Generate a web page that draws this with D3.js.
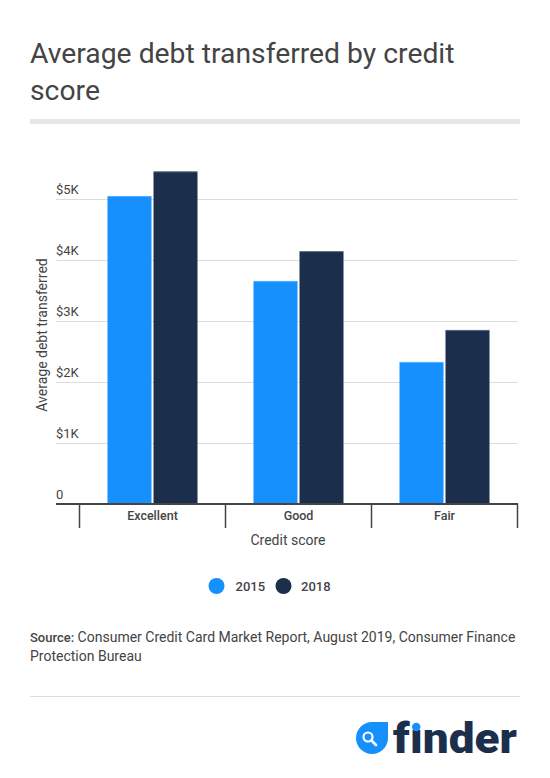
<!DOCTYPE html>
<html>
<head>
<meta charset="utf-8">
<script src="https://cdn.jsdelivr.net/npm/d3@7"></script>
<style>
  html, body { margin: 0; padding: 0; background: #fff; }
  svg { display: block; font-family: Roboto, "Noto Sans", sans-serif; }
</style>
</head>
<body>
<svg id="chart" width="550" height="778"></svg>
<script>
const categories = ["Excellent", "Good", "Fair"];
const seriesNames = ["2015", "2018"];
const values2015 = [5050, 3655, 2325];
const values2018 = [5455, 4145, 2850];
const yTicks = [0, 1000, 2000, 3000, 4000, 5000];
const yTickLabels = ["0", "$1K", "$2K", "$3K", "$4K", "$5K"];
const colors = ["#1690fd", "#1b2f4c"];

const svg = d3.select("#chart");
const textColor = "#444";

// Title
const title = svg.append("text").attr("fill", textColor).attr("font-size", 28.3).attr("font-weight", 400);
title.append("tspan").attr("x", 30).attr("y", 63).text("Average debt transferred by credit");
title.append("tspan").attr("x", 30).attr("y", 100).text("score");
svg.append("rect").attr("x", 30).attr("y", 119).attr("width", 490).attr("height", 5).attr("fill", "#e6e6e6");

// Scales
const plotLeft = 56, plotRight = 518;
const x0 = d3.scaleBand().domain(categories).range([79.5, 517.5]).paddingInner(0).paddingOuter(0);
const x1 = d3.scaleBand().domain(seriesNames).range([28, 118]).paddingInner(2 / 46).paddingOuter(0);
const y = d3.scaleLinear().domain([0, 5000]).range([503.5, 199]);

// Gridlines
const grid = svg.append("g");
grid.selectAll("line").data(yTicks.filter(d => d > 0)).join("line")
  .attr("x1", plotLeft).attr("x2", plotRight)
  .attr("y1", d => Math.round(y(d)) + 0.5).attr("y2", d => Math.round(y(d)) + 0.5)
  .attr("stroke", "#dcdcdc").attr("stroke-width", 1);

// Y labels
svg.append("g").selectAll("text").data(yTicks).join("text")
  .attr("x", plotLeft).attr("y", d => y(d) - 5)
  .attr("font-size", 13).attr("fill", textColor)
  .text((d, i) => yTickLabels[i]);

// Bars
const data = categories.map((c, i) => ({ cat: c, vals: [values2015[i], values2018[i]] }));
const groups = svg.append("g").selectAll("g").data(data).join("g")
  .attr("transform", d => `translate(${x0(d.cat)},0)`);
groups.selectAll("rect.bar").data(d => d.vals.map((v, j) => ({ s: seriesNames[j], v, j }))).join("rect")
  .attr("class", "bar")
  .attr("x", d => x1(d.s)).attr("width", x1.bandwidth())
  .attr("y", d => y(d.v)).attr("height", d => y(0) - y(d.v))
  .attr("fill", d => colors[d.j]);
groups.selectAll("rect.cap").data(d => d.vals.map((v, j) => ({ s: seriesNames[j], v, j }))).join("rect")
  .attr("class", "cap")
  .attr("x", d => x1(d.s)).attr("width", x1.bandwidth())
  .attr("y", d => y(d.v)).attr("height", 1)
  .attr("fill", "#ffffff").attr("opacity", 0.3);

// X axis
svg.append("line").attr("x1", plotLeft).attr("x2", plotRight)
  .attr("y1", y(0) + 0.5).attr("y2", y(0) + 0.5)
  .attr("stroke", textColor).attr("stroke-width", 2);
const boundaries = categories.map(c => x0(c)).concat([x0(categories[categories.length - 1]) + x0.bandwidth()]);
svg.append("g").selectAll("line").data(boundaries).join("line")
  .attr("x1", d => d).attr("x2", d => d)
  .attr("y1", y(0)).attr("y2", 528)
  .attr("stroke", textColor).attr("stroke-width", 1.5);
svg.append("g").selectAll("text").data(categories).join("text")
  .attr("x", d => x0(d) + x0.bandwidth() / 2).attr("y", 520)
  .attr("text-anchor", "middle").attr("font-size", 12.5).attr("font-weight", 500).attr("fill", textColor)
  .text(d => d);

// Axis titles
svg.append("text").attr("x", 288).attr("y", 545).attr("text-anchor", "middle")
  .attr("font-size", 14).attr("fill", textColor).text("Credit score");
svg.append("text").attr("transform", "translate(47,335) rotate(-90)").attr("text-anchor", "middle")
  .attr("font-size", 14).attr("fill", textColor).text("Average debt transferred");

// Legend
const legendPos = [{ cx: 216.5, tx: 235.5 }, { cx: 283.5, tx: 301 }];
const legend = svg.append("g").selectAll("g").data(seriesNames).join("g");
legend.append("circle").attr("cx", (d, i) => legendPos[i].cx).attr("cy", 586).attr("r", 8)
  .attr("fill", (d, i) => colors[i]);
legend.append("text").attr("x", (d, i) => legendPos[i].tx).attr("y", 591)
  .attr("font-size", 13).attr("font-weight", 500).attr("fill", textColor).text(d => d);

// Source
const src = svg.append("text").attr("font-size", 14).attr("fill", textColor);
const l1 = src.append("tspan").attr("x", 30).attr("y", 642);
l1.append("tspan").attr("font-weight", 500).attr("font-size", 13).text("Source:");
l1.append("tspan").text(" Consumer Credit Card Market Report, August 2019, Consumer Finance");
src.append("tspan").attr("x", 30).attr("y", 661).text("Protection Bureau");

svg.append("line").attr("x1", 30).attr("x2", 520).attr("y1", 696.5).attr("y2", 696.5)
  .attr("stroke", "#dddddd").attr("stroke-width", 1);

// Logo
const logo = svg.append("g");
logo.append("path").attr("d", "M372,722 L388,722 L388,738 A16,16 0 1 1 372,722 Z").attr("fill", "#1690fd");
logo.append("circle").attr("cx", 368).attr("cy", 737).attr("r", 4.5).attr("fill", "none")
  .attr("stroke", "#fff").attr("stroke-width", 2.2);
logo.append("line").attr("x1", 371.5).attr("y1", 740.5).attr("x2", 376).attr("y2", 745)
  .attr("stroke", "#fff").attr("stroke-width", 2.6).attr("stroke-linecap", "round");
const word = logo.append("text").attr("x", 393).attr("y", 753)
  .attr("font-size", 43).attr("font-weight", 900).attr("fill", "#1b2f4c")
  .attr("textLength", 124).attr("lengthAdjust", "spacingAndGlyphs")
  .text("f\u0131nder");
try {
  const ext = word.node().getExtentOfChar(1);
  logo.append("circle").attr("cx", ext.x + ext.width / 2).attr("cy", 727).attr("r", 4.2).attr("fill", "#1690fd");
} catch (e) {
  logo.append("circle").attr("cx", 416).attr("cy", 727).attr("r", 4.2).attr("fill", "#1690fd");
}
</script>
</body>
</html>
